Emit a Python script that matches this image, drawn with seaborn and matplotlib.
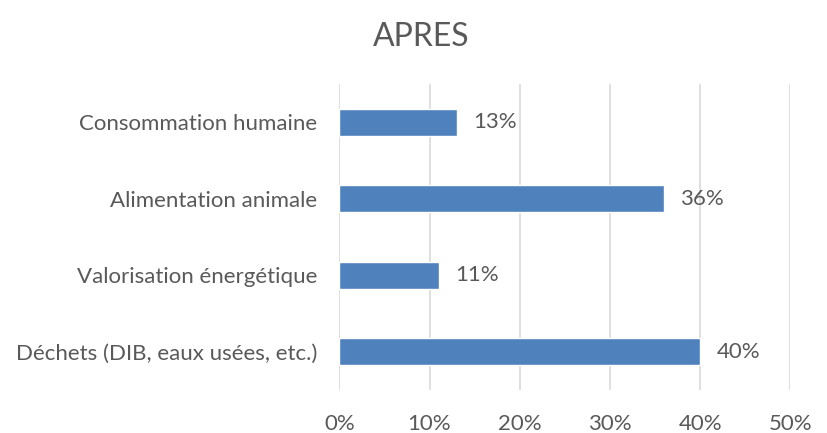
import matplotlib
matplotlib.use("Agg")
import matplotlib.pyplot as plt
import seaborn as sns
import pandas as pd

# Data
categories = ["Consommation humaine", "Alimentation animale",
              "Valorisation énergétique", "Déchets (DIB, eaux usées, etc.)"]
shares = [13, 36, 11, 40]
tick_values = [0, 10, 20, 30, 40, 50]
tick_labels = ["0%", "10%", "20%", "30%", "40%", "50%"]
title = "APRES"

df = pd.DataFrame({"categorie": categories, "part": shares})

sns.set_theme(style="white")
plt.rcParams['font.family'] = ['Lato', 'DejaVu Sans']
text_color = "#595959"

fig = plt.figure(figsize=(8.27, 4.33), dpi=100)
ax = fig.add_axes([0.4103, 0.0993, 0.5453, 0.7067])

sns.barplot(data=df, x="part", y="categorie", color="#4F81BD",
            width=0.35, saturation=1, ax=ax, zorder=3)

ax.set_xlim(0, 50)
ax.set_xticks(tick_values)
ax.set_xticklabels(tick_labels, fontsize=16, color=text_color)
ax.tick_params(axis="x", length=0, pad=17)
ax.tick_params(axis="y", length=0, pad=16, labelsize=16, labelcolor=text_color)
ax.grid(True, axis="x", color="#D9D9D9", linewidth=1.2, zorder=0)
ax.set_xlabel("")
ax.set_ylabel("")
for s in ax.spines.values():
    s.set_visible(False)

for i, v in enumerate(shares):
    ax.text(v + 1.8, i, f"{v}%", va="center", ha="left",
            fontsize=16, color=text_color)

fig.text(0.509, 0.915, title, ha="center", va="center",
         fontsize=23, color=text_color)

fig.savefig("out.png", dpi=100)
